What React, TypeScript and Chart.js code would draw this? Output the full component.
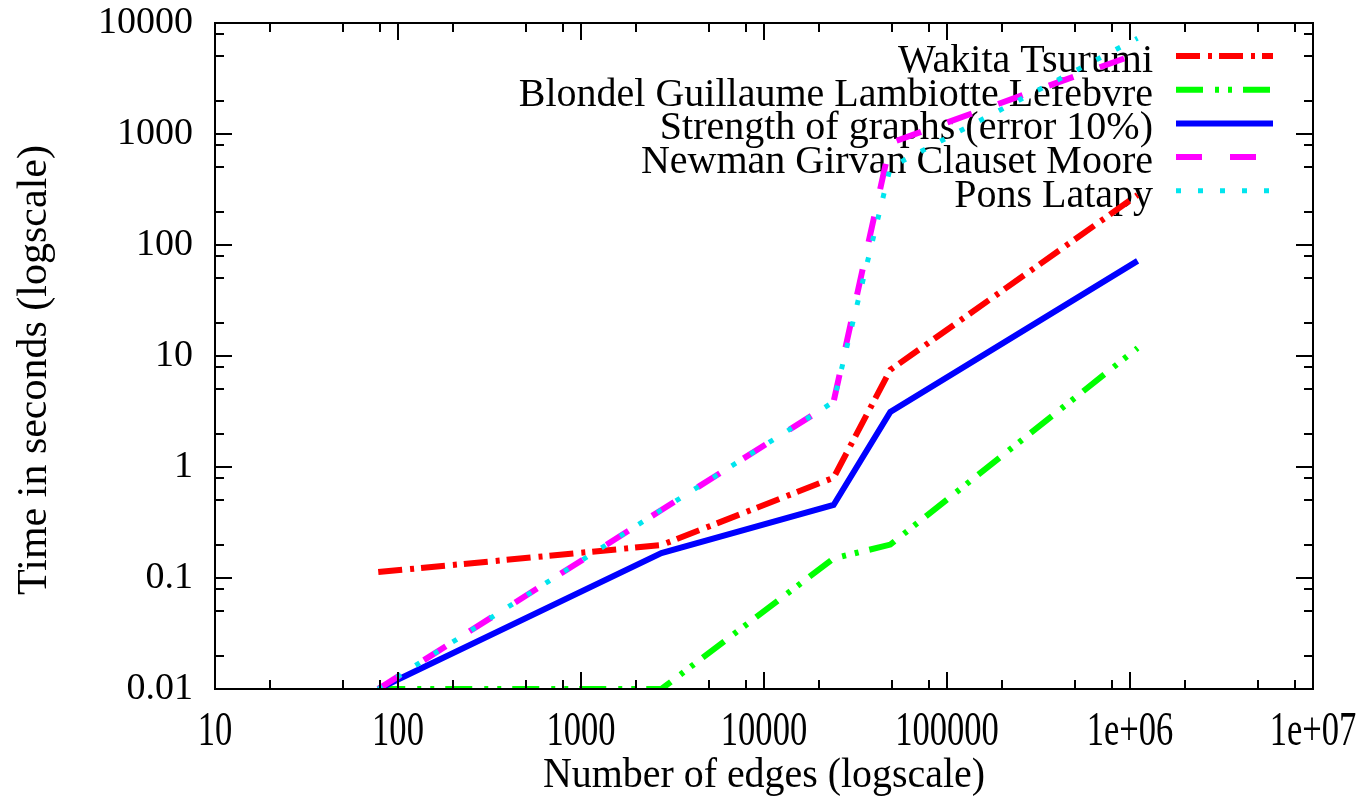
import React, { useEffect, useRef } from 'react';
import { Chart, registerables } from 'chart.js';

Chart.register(...registerables);

const FONT = "'Liberation Serif', 'Times New Roman', serif";

// Data
const edges = [78, 2750, 24000, 49000, 1100000];
const wakitaTsurumi = [0.113, 0.198, 0.8, 7.5, 282];
const blondelGuillaume = [0.01, 0.01, 0.15, 0.2, 11.8];
const strengthOfGraphs = [0.01, 0.168, 0.455, 3.13, 72];
const newmanGirvan = [0.01, 0.41, 3.86, 830, 5300];
const ponsLatapy = [0.01, 0.41, 3.86, 500, 7300];

const seriesLabels = [
  'Wakita Tsurumi',
  'Blondel Guillaume Lambiotte Lefebvre',
  'Strength of graphs (error 10%)',
  'Newman Girvan Clauset Moore',
  'Pons Latapy',
];

const xTickValues = [10, 100, 1000, 10000, 100000, 1000000, 10000000];
const xTickLabels = ['10', '100', '1000', '10000', '100000', '1e+06', '1e+07'];
const yTickValues = [0.01, 0.1, 1, 10, 100, 1000, 10000];
const yTickLabels = ['0.01', '0.1', '1', '10', '100', '1000', '10000'];
const minorFactors = [2, 5, 8];

const xTitle = 'Number of edges (logscale)';
const yTitle = 'Time in seconds (logscale)';

function toPoints(ys: number[]) {
  return edges.map((x, i) => ({ x, y: ys[i] }));
}

const decorPlugin = {
  id: 'decor',
  beforeDatasetsDraw(chart: any) {
    const ctx = chart.ctx;
    const area = chart.chartArea;
    const textRight = area.right - 160;
    const sampleL = area.right - 137;
    const sampleR = area.right - 40;
    ctx.save();
    ctx.font = `40px ${FONT}`;
    ctx.fillStyle = '#000';
    ctx.textAlign = 'right';
    ctx.textBaseline = 'alphabetic';
    chart.data.datasets.forEach((ds: any, i: number) => {
      const y = area.top + 33 + i * 33.7;
      ctx.fillText(ds.label, textRight, y + 16);
      ctx.beginPath();
      ctx.setLineDash(ds.borderDash || []);
      ctx.lineWidth = ds.borderWidth;
      ctx.strokeStyle = ds.borderColor;
      ctx.lineCap = 'butt';
      ctx.moveTo(sampleL, y);
      ctx.lineTo(sampleR, y);
      ctx.stroke();
    });
    ctx.restore();
  },
  afterDatasetsDraw(chart: any) {
    const ctx = chart.ctx;
    const { left, right, top, bottom } = chart.chartArea;
    const xs = chart.scales.x;
    const ys = chart.scales.y;
    const major = 17;
    const minor = 9;
    ctx.save();
    ctx.setLineDash([]);
    ctx.strokeStyle = '#000';
    ctx.lineWidth = 2;
    ctx.beginPath();
    xTickValues.forEach((v, i) => {
      const px = Math.round(xs.getPixelForValue(v));
      ctx.moveTo(px, bottom); ctx.lineTo(px, bottom - major);
      ctx.moveTo(px, top); ctx.lineTo(px, top + major);
      if (i < xTickValues.length - 1) {
        minorFactors.forEach((f) => {
          const mx = Math.round(xs.getPixelForValue(v * f));
          ctx.moveTo(mx, bottom); ctx.lineTo(mx, bottom - minor);
          ctx.moveTo(mx, top); ctx.lineTo(mx, top + minor);
        });
      }
    });
    yTickValues.forEach((v, i) => {
      const py = Math.round(ys.getPixelForValue(v));
      ctx.moveTo(left, py); ctx.lineTo(left + major, py);
      ctx.moveTo(right, py); ctx.lineTo(right - major, py);
      if (i < yTickValues.length - 1) {
        minorFactors.forEach((f) => {
          const my = Math.round(ys.getPixelForValue(v * f));
          ctx.moveTo(left, my); ctx.lineTo(left + minor, my);
          ctx.moveTo(right, my); ctx.lineTo(right - minor, my);
        });
      }
    });
    ctx.stroke();
    ctx.strokeRect(left, top, right - left, bottom - top);
    ctx.restore();
  },
  afterDraw(chart: any) {
    const ctx = chart.ctx;
    const { left, right, bottom } = chart.chartArea;
    const xs = chart.scales.x;
    ctx.save();
    ctx.fillStyle = '#000';
    ctx.textAlign = 'center';
    ctx.textBaseline = 'middle';
    ctx.font = `48px ${FONT}`;
    xTickValues.forEach((v, i) => {
      const px = xs.getPixelForValue(v);
      ctx.save();
      ctx.translate(px, bottom + 43);
      ctx.scale(0.72, 1);
      ctx.fillText(xTickLabels[i], 0, 0);
      ctx.restore();
    });
    ctx.font = `42px ${FONT}`;
    ctx.save();
    ctx.translate((left + right) / 2, 776);
    ctx.scale(0.95, 1);
    ctx.fillText(xTitle, 0, 0);
    ctx.restore();
    ctx.translate(35, 370);
    ctx.rotate(-Math.PI / 2);
    ctx.fillText(yTitle, 0, 0);
    ctx.restore();
  },
};

export default function App() {
  const canvasRef = useRef<HTMLCanvasElement | null>(null);

  useEffect(() => {
    if (!canvasRef.current) return;
    const common = { fill: false, tension: 0, pointRadius: 0, pointHoverRadius: 0, borderCapStyle: 'butt' };
    const chart = new Chart(canvasRef.current, {
      type: 'line',
      data: {
        datasets: [
          { ...common, label: seriesLabels[0], data: toPoints(wakitaTsurumi), borderColor: '#ff0000', borderWidth: 6, borderDash: [24, 8, 4, 7], order: 5 },
          { ...common, label: seriesLabels[1], data: toPoints(blondelGuillaume), borderColor: '#00ff00', borderWidth: 6, borderDash: [27, 12, 4, 9, 4, 11], order: 4 },
          { ...common, label: seriesLabels[2], data: toPoints(strengthOfGraphs), borderColor: '#0000ff', borderWidth: 6, borderDash: [], order: 3 },
          { ...common, label: seriesLabels[3], data: toPoints(newmanGirvan), borderColor: '#ff00ff', borderWidth: 6, borderDash: [26, 28], order: 2 },
          { ...common, label: seriesLabels[4], data: toPoints(ponsLatapy), borderColor: '#00e5ee', borderWidth: 5, borderDash: [5, 17], order: 1 },
        ] as any,
      },
      options: {
        animation: false,
        responsive: false,
        maintainAspectRatio: false,
        layout: { padding: { top: 23, right: 58, left: 0, bottom: 0 } },
        plugins: { legend: { display: false }, tooltip: { enabled: false } },
        events: [],
        scales: {
          x: {
            type: 'logarithmic',
            min: 10,
            max: 10000000,
            grid: { display: false, drawTicks: false },
            border: { display: false },
            afterBuildTicks: (scale: any) => {
              scale.ticks = xTickValues.map((v) => ({ value: v }));
            },
            afterFit: (scale: any) => {
              scale.height = 109;
              scale.paddingLeft = 0;
              scale.paddingRight = 0;
            },
            ticks: {
              display: false,
              autoSkip: false,
              maxRotation: 0,
              callback: (_v: any, i: number) => xTickLabels[i],
            },
          },
          y: {
            type: 'logarithmic',
            min: 0.01,
            max: 10000,
            grid: { display: false, drawTicks: false },
            border: { display: false },
            afterBuildTicks: (scale: any) => {
              scale.ticks = yTickValues.map((v) => ({ value: v }));
            },
            afterFit: (scale: any) => {
              scale.width = 215;
              scale.paddingTop = 0;
              scale.paddingBottom = 0;
            },
            ticks: {
              autoSkip: false,
              padding: 22,
              color: '#000',
              font: { family: FONT, size: 38 },
              callback: (_v: any, i: number) => yTickLabels[i],
            },
          },
        },
      } as any,
      plugins: [decorPlugin],
    });
    return () => chart.destroy();
  }, []);

  return (
    <div style={{ position: 'fixed', left: 0, top: 0, width: 1371, height: 798, background: '#fff' }}>
      <canvas ref={canvasRef} width={1371} height={798} />
    </div>
  );
}
